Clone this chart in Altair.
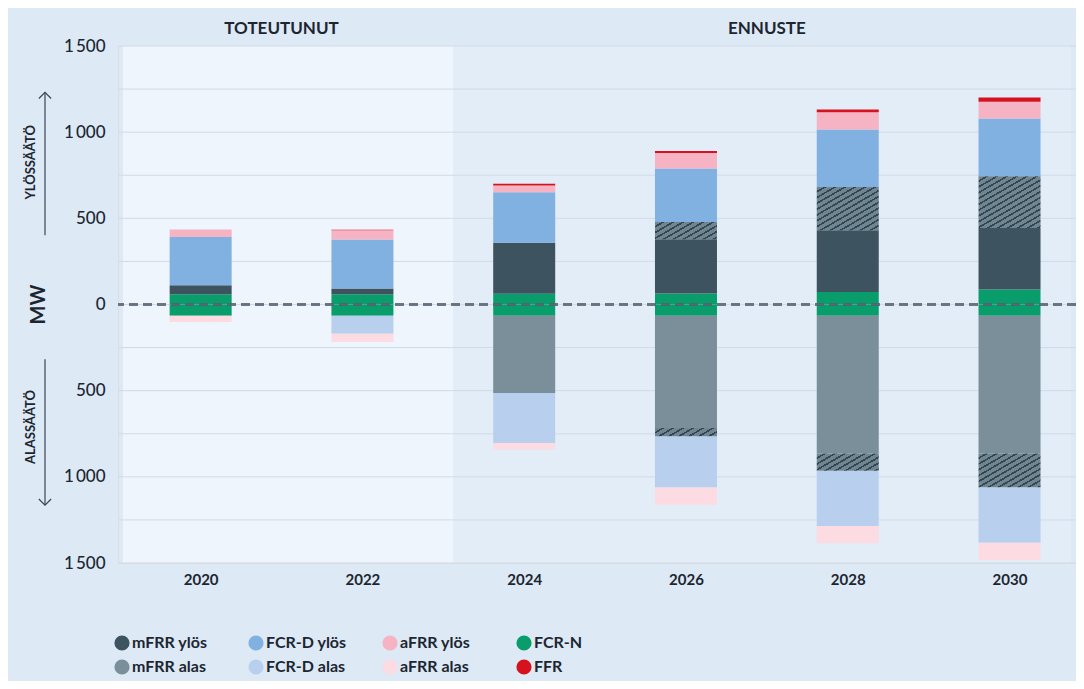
import altair as alt
import pandas as pd

# ---------------- data ----------------
YEARS = [2020, 2022, 2024, 2026, 2028, 2030]

FCRN_UP = [60, 60, 62, 64, 73, 87]
MFRR_UP = [52, 33, 297, 315, 358, 357]
MFRR_UP_HATCH = [0, 0, 0, 100, 251, 300]
FCRD_UP = [280, 284, 293, 310, 333, 335]
AFRR_UP = [43, 54, 39, 90, 101, 97]
FFR = [0, 3, 9, 12, 15, 25]

FCRN_DOWN = [66, 66, 66, 66, 66, 66]
MFRR_DOWN = [0, 0, 447, 650, 798, 798]
MFRR_DOWN_HATCH = [0, 0, 0, 48, 101, 197]
FCRD_DOWN = [0, 104, 290, 298, 320, 322]
AFRR_DOWN = [35, 48, 38, 100, 101, 100]

LEGEND_ORDER = ["mFRR ylös", "FCR-D ylös", "aFRR ylös", "FCR-N",
                "mFRR alas", "FCR-D alas", "aFRR alas", "FFR"]
LEGEND_COLORS = ["#3d5360", "#80b1e1", "#f5b3c3", "#0a9d6c",
                 "#7a8f99", "#b8d0ee", "#fcdbe3", "#d5121e"]

REGIONS = ["TOTEUTUNUT", "ENNUSTE"]
REGION_START = [2019.04, 2023.125]
REGION_END = [2023.125, 2030.76]
REGION_FILL = ["#eef5fc", "#e2edf8"]
HEADER_X = [2021, 2027]

GRID_VALUES = [-1500, -1250, -1000, -750, -500, -250, 0, 250, 500, 750, 1000, 1250, 1500]
Y_LABEL_VALUES = [-1500, -1000, -500, 0, 500, 1000, 1500]

SIDE_LABELS = ["YLÖSSÄÄTÖ", "ALASSÄÄTÖ"]
SIDE_TEXT_Y = [825, -711]
ARROW_FROM = [402, -317]
ARROW_TO = [1231, -1164]
ARROW_HEAD_ANGLE = [0, 180]

# ---------------- layout / style ----------------
PLOT_W, PLOT_H = 958, 517
X_MIN, X_MAX = 2019.04, 2030.76
BAR_W = 62
PX_PER_MW = PLOT_H / 3000.0
TEXT = "#1c2630"
FONT = "Lato"
HATCH_BG = "#6f8692"
HATCH_LINE = "#33454e"

# ---------------- build stacked segments ----------------
up_stack = [("FCR-N", FCRN_UP, False), ("mFRR ylös", MFRR_UP, False),
            ("mFRR ylös", MFRR_UP_HATCH, True), ("FCR-D ylös", FCRD_UP, False),
            ("aFRR ylös", AFRR_UP, False), ("FFR", FFR, False)]
down_stack = [("FCR-N", FCRN_DOWN, False), ("mFRR alas", MFRR_DOWN, False),
              ("mFRR alas", MFRR_DOWN_HATCH, True), ("FCR-D alas", FCRD_DOWN, False),
              ("aFRR alas", AFRR_DOWN, False)]

rows = []
for i, yr in enumerate(YEARS):
    for stack, sign in ((up_stack, 1), (down_stack, -1)):
        base = 0
        for name, vals, hatch in stack:
            v = vals[i]
            if v <= 0:
                continue
            rows.append({"year": yr, "series": name, "y0": sign * base,
                         "y1": sign * (base + v), "val": v, "hatch": hatch})
            base += v
seg = pd.DataFrame(rows)
main_df = seg[~seg["hatch"]].reset_index(drop=True)
hatch_df = seg[seg["hatch"]].reset_index(drop=True)

x_scale = alt.Scale(domain=[X_MIN, X_MAX], nice=False, zero=False)
y_scale = alt.Scale(domain=[-1500, 1500], nice=False, zero=False)

X_AXIS = alt.Axis(values=YEARS, format="d", domain=False, ticks=False,
                  grid=False, labelPadding=9, labelFontSize=15,
                  labelFontWeight="bold", labelColor=TEXT, labelFont=FONT,
                  title=None, labelFlush=False)
Y_AXIS = alt.Axis(values=Y_LABEL_VALUES,
                  labelExpr="replace(format(abs(datum.value), ','), ',', '\u2009')",
                  domain=False, ticks=False, grid=False, labelPadding=13,
                  labelFontSize=17, labelFontWeight=500, labelColor=TEXT,
                  labelFont=FONT, title=None, labelFlush=False,
                  labelOverlap=False)


def hatch_gradient(h_px, w_px=BAR_W, slope=0.58, period=10.0, line_frac=0.32):
    b = h_px / (slope * w_px)
    lam = (1 + b) / (1 + b * b)
    p = period / (w_px * (1 + b))
    stops = []
    t = 0.0
    while t < 1.0:
        t1 = min(t + p * (1 - line_frac), 1.0)
        t2 = min(t + p, 1.0)
        stops += [{"offset": round(t, 5), "color": HATCH_BG},
                  {"offset": round(t1, 5), "color": HATCH_BG},
                  {"offset": round(t1, 5), "color": HATCH_LINE},
                  {"offset": round(t2, 5), "color": HATCH_LINE}]
        t += p
    return {"gradient": "linear", "x1": 0, "y1": 0,
            "x2": round(lam, 5), "y2": round(lam * b, 5), "stops": stops}


regions_df = pd.DataFrame({"name": REGIONS, "start": REGION_START,
                           "end": REGION_END, "fill": REGION_FILL,
                           "hx": HEADER_X})

regions = alt.Chart(regions_df).mark_rect().encode(
    x=alt.X("start:Q", scale=x_scale, axis=X_AXIS),
    x2="end:Q",
    y=alt.value(0),
    y2=alt.value(PLOT_H),
    fill=alt.Fill("fill:N", scale=None),
)

grid = alt.Chart(pd.DataFrame({"v": GRID_VALUES})).mark_rule(
    color="#d0dbe7", strokeWidth=1
).encode(y=alt.Y("v:Q", scale=y_scale, axis=Y_AXIS))

bars = alt.Chart(main_df).mark_bar(size=BAR_W).encode(
    x=alt.X("year:Q", scale=x_scale, axis=X_AXIS),
    y=alt.Y("y0:Q", scale=y_scale, axis=Y_AXIS),
    y2="y1:Q",
    color=alt.Color("series:N",
                    scale=alt.Scale(domain=LEGEND_ORDER, range=LEGEND_COLORS),
                    legend=alt.Legend(orient="none", legendX=-4, legendY=589,
                                      columns=4, direction="horizontal",
                                      symbolType="circle", symbolSize=230,
                                      symbolStrokeWidth=0, symbolOpacity=1,
                                      labelFont=FONT, labelFontSize=16,
                                      labelFontWeight="bold", labelColor=TEXT,
                                      gridAlign="all", columnPadding=35,
                                      rowPadding=8, labelOffset=2, title=None,
                                      padding=0)),
)

hatch_layers = []
for _, r in hatch_df.iterrows():
    h_px = float(r["val"]) * PX_PER_MW
    one = pd.DataFrame([r.to_dict()])
    hatch_layers.append(
        alt.Chart(one).mark_bar(size=BAR_W, fill=hatch_gradient(h_px)).encode(
            x=alt.X("year:Q", scale=x_scale, axis=X_AXIS),
            y=alt.Y("y0:Q", scale=y_scale, axis=Y_AXIS),
            y2="y1:Q",
        )
    )

zero_line = alt.Chart(pd.DataFrame({"v": [0]})).mark_rule(
    color="#55606f", strokeWidth=3, strokeDash=[9, 5], opacity=0.85
).encode(y=alt.Y("v:Q", scale=y_scale, axis=Y_AXIS))

headers = alt.Chart(regions_df).mark_text(
    font=FONT, fontSize=17, fontWeight="bold", color=TEXT, baseline="middle"
).encode(
    x=alt.X("hx:Q", scale=x_scale, axis=X_AXIS),
    y=alt.value(-17),
    text="name:N",
)

side_df = pd.DataFrame({"label": SIDE_LABELS, "ty": SIDE_TEXT_Y,
                        "a0": ARROW_FROM, "a1": ARROW_TO,
                        "ang": ARROW_HEAD_ANGLE})

side_text = alt.Chart(side_df).mark_text(
    font=FONT, fontSize=13, fontWeight="bold", color=TEXT, angle=270,
    baseline="middle"
).encode(x=alt.value(-87), y=alt.Y("ty:Q", scale=y_scale, axis=Y_AXIS),
         text="label:N")

arrows = alt.Chart(side_df).mark_rule(color="#3b4654", strokeWidth=1.2).encode(
    x=alt.value(-73), y=alt.Y("a0:Q", scale=y_scale, axis=Y_AXIS), y2="a1:Q")

heads = alt.Chart(side_df).mark_point(
    shape="M-1,1L0,0L1,1", filled=False, strokeWidth=1.2, size=150,
    color="#3b4654", opacity=1
).encode(x=alt.value(-73), y=alt.Y("a1:Q", scale=y_scale, axis=Y_AXIS),
         angle=alt.Angle("ang:Q", scale=None))

mw = alt.Chart(pd.DataFrame({"t": ["MW"], "v": [0]})).mark_text(
    font=FONT, fontSize=20, fontWeight="bold", color=TEXT, angle=270,
    baseline="middle"
).encode(x=alt.value(-79), y=alt.Y("v:Q", scale=y_scale, axis=Y_AXIS), text="t:N")

chart = alt.layer(
    regions, grid, bars, *hatch_layers, zero_line, headers,
    side_text, arrows, heads, mw
).properties(
    width=PLOT_W, height=PLOT_H,
    padding={"left": 110, "top": 38, "right": 0, "bottom": 118},
    autosize=alt.AutoSizeParams(type="none"),
    background="#dde9f5",
).configure_view(strokeWidth=0).configure(font=FONT)

chart.save("out.html", embed_options={"renderer": "svg", "actions": False})
